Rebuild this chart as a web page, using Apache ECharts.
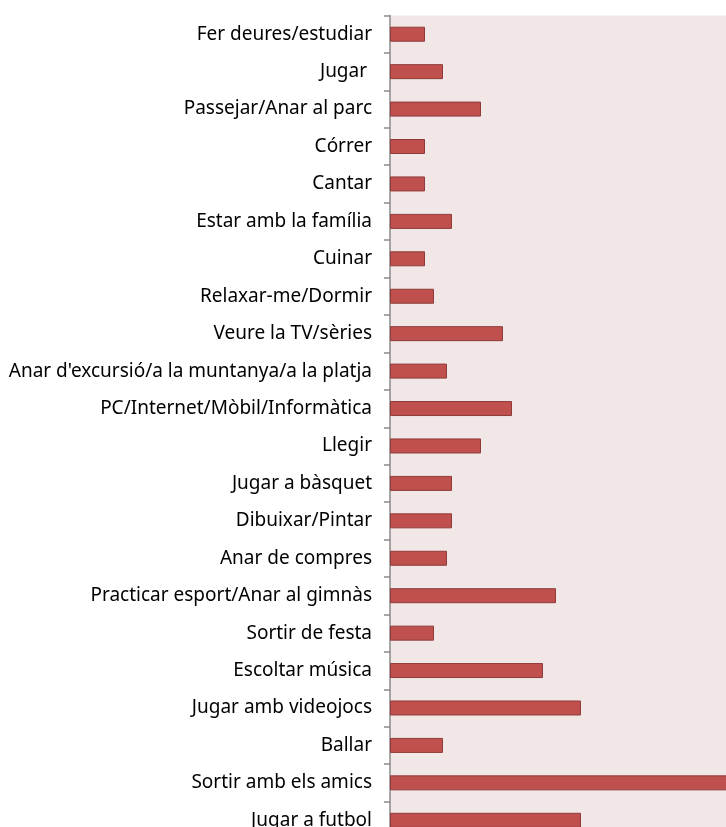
<!DOCTYPE html>
<html>
<head>
<meta charset="utf-8">
<script src="https://cdn.jsdelivr.net/npm/echarts@6/dist/echarts.min.js"></script>
<style>
html,body{margin:0;padding:0;background:#fff;}
#chart{width:726px;height:827px;}
</style>
</head>
<body>
<div id="chart"></div>
<script>
const categories = [
  "Fer deures/estudiar",
  "Jugar ",
  "Passejar/Anar al parc",
  "Córrer",
  "Cantar",
  "Estar amb la família",
  "Cuinar",
  "Relaxar-me/Dormir",
  "Veure la TV/sèries",
  "Anar d'excursió/a la muntanya/a la platja",
  "PC/Internet/Mòbil/Informàtica",
  "Llegir",
  "Jugar a bàsquet",
  "Dibuixar/Pintar",
  "Anar de compres",
  "Practicar esport/Anar al gimnàs",
  "Sortir de festa",
  "Escoltar música",
  "Jugar amb videojocs",
  "Ballar",
  "Sortir amb els amics",
  "Jugar a futbol"
];
const values = [35, 53, 91, 35, 35, 62, 35, 44, 113, 57, 122, 91, 62, 62, 57, 166, 44, 153, 191, 53, 370, 191];

const chart = echarts.init(document.getElementById('chart'), null, {renderer: 'canvas'});
chart.setOption({
  animation: false,
  grid: {
    left: 390, top: 15.5, width: 420, height: 823.5,
    outerBoundsMode: 'none',
    containLabel: false,
    show: true, backgroundColor: '#f2e7e7', borderWidth: 0
  },
  xAxis: {
    type: 'value', min: 0, max: 420, show: false
  },
  yAxis: {
    type: 'category',
    inverse: true,
    data: categories,
    axisLine: {show: true, lineStyle: {color: '#8a8a8a', width: 1.5}},
    axisTick: {show: true, length: 6, lineStyle: {color: '#8a8a8a', width: 1.5}},
    axisLabel: {
      margin: 18,
      color: '#000',
      fontFamily: 'Noto Sans',
      fontSize: 19
    }
  },
  series: [{
    type: 'bar',
    data: values,
    barWidth: 15,
    itemStyle: {color: '#c0504d', borderColor: '#8e3b39', borderWidth: 1}
  }]
});
</script>
</body>
</html>
